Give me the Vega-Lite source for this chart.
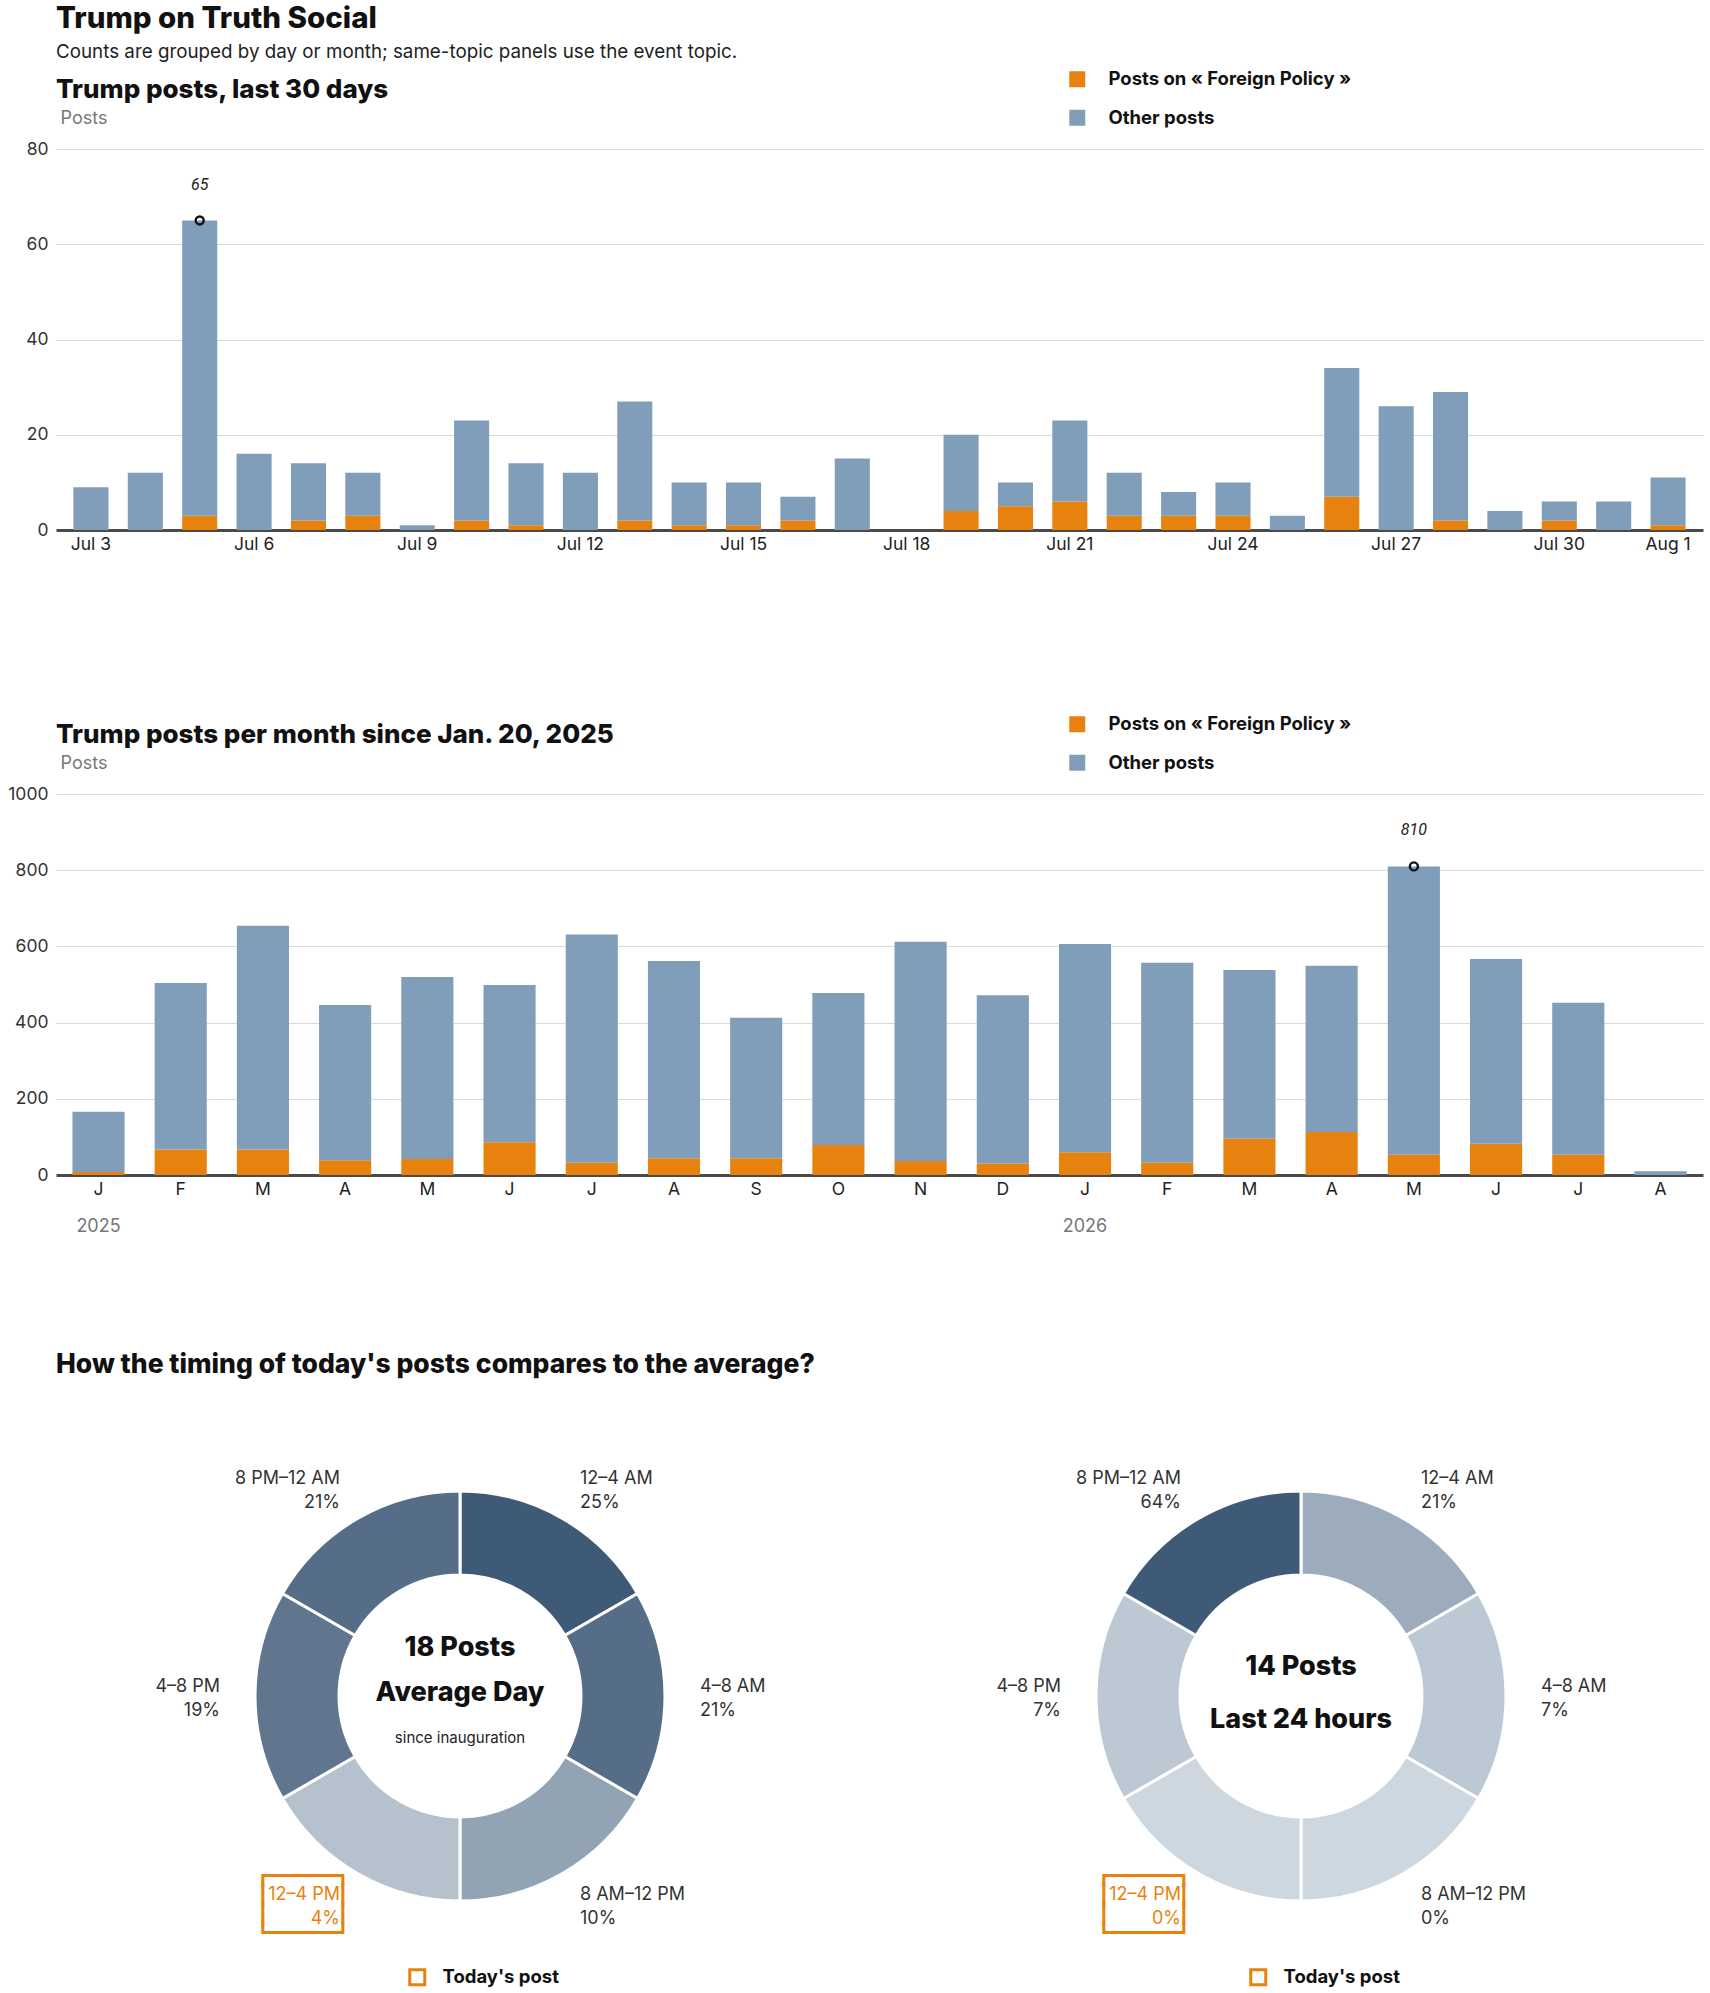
{
  "$schema": "https://vega.github.io/schema/vega-lite/v6.json",
  "background": "white",
  "padding": {"top": 4, "left": 7, "right": 2, "bottom": 0},
  "config": {
    "font": "Inter",
    "view": {"stroke": null},
    "axis": {"labelFont": "Inter", "labelFontSize": 17.5, "labelColor": "#333", "ticks": false, "domain": false, "grid": false, "titleFont": "Inter"},
    "legend": {"padding": 0, "labelFont": "Inter", "labelFontSize": 18.5, "labelFontWeight": 700, "labelColor": "#111", "labelLimit": 0}
  },
  "datasets": {
    "days": [
      {"day": "Jul 3", "Posts on « Foreign Policy »": 0, "Other posts": 9},
      {"day": "Jul 4", "Posts on « Foreign Policy »": 0, "Other posts": 12},
      {"day": "Jul 5", "Posts on « Foreign Policy »": 3, "Other posts": 62},
      {"day": "Jul 6", "Posts on « Foreign Policy »": 0, "Other posts": 16},
      {"day": "Jul 7", "Posts on « Foreign Policy »": 2, "Other posts": 12},
      {"day": "Jul 8", "Posts on « Foreign Policy »": 3, "Other posts": 9},
      {"day": "Jul 9", "Posts on « Foreign Policy »": 0, "Other posts": 1},
      {"day": "Jul 10", "Posts on « Foreign Policy »": 2, "Other posts": 21},
      {"day": "Jul 11", "Posts on « Foreign Policy »": 1, "Other posts": 13},
      {"day": "Jul 12", "Posts on « Foreign Policy »": 0, "Other posts": 12},
      {"day": "Jul 13", "Posts on « Foreign Policy »": 2, "Other posts": 25},
      {"day": "Jul 14", "Posts on « Foreign Policy »": 1, "Other posts": 9},
      {"day": "Jul 15", "Posts on « Foreign Policy »": 1, "Other posts": 9},
      {"day": "Jul 16", "Posts on « Foreign Policy »": 2, "Other posts": 5},
      {"day": "Jul 17", "Posts on « Foreign Policy »": 0, "Other posts": 15},
      {"day": "Jul 18", "Posts on « Foreign Policy »": 0, "Other posts": 0},
      {"day": "Jul 19", "Posts on « Foreign Policy »": 4, "Other posts": 16},
      {"day": "Jul 20", "Posts on « Foreign Policy »": 5, "Other posts": 5},
      {"day": "Jul 21", "Posts on « Foreign Policy »": 6, "Other posts": 17},
      {"day": "Jul 22", "Posts on « Foreign Policy »": 3, "Other posts": 9},
      {"day": "Jul 23", "Posts on « Foreign Policy »": 3, "Other posts": 5},
      {"day": "Jul 24", "Posts on « Foreign Policy »": 3, "Other posts": 7},
      {"day": "Jul 25", "Posts on « Foreign Policy »": 0, "Other posts": 3},
      {"day": "Jul 26", "Posts on « Foreign Policy »": 7, "Other posts": 27},
      {"day": "Jul 27", "Posts on « Foreign Policy »": 0, "Other posts": 26},
      {"day": "Jul 28", "Posts on « Foreign Policy »": 2, "Other posts": 27},
      {"day": "Jul 29", "Posts on « Foreign Policy »": 0, "Other posts": 4},
      {"day": "Jul 30", "Posts on « Foreign Policy »": 2, "Other posts": 4},
      {"day": "Jul 31", "Posts on « Foreign Policy »": 0, "Other posts": 6},
      {"day": "Aug 1", "Posts on « Foreign Policy »": 1, "Other posts": 10}
    ],
    "months": [
      {"month": "Jan 2025", "year": 2025, "Posts on « Foreign Policy »": 8, "Other posts": 158},
      {"month": "Feb 2025", "year": 2025, "Posts on « Foreign Policy »": 67, "Other posts": 437},
      {"month": "Mar 2025", "year": 2025, "Posts on « Foreign Policy »": 67, "Other posts": 587},
      {"month": "Apr 2025", "year": 2025, "Posts on « Foreign Policy »": 39, "Other posts": 407},
      {"month": "May 2025", "year": 2025, "Posts on « Foreign Policy »": 42, "Other posts": 478},
      {"month": "Jun 2025", "year": 2025, "Posts on « Foreign Policy »": 86, "Other posts": 413},
      {"month": "Jul 2025", "year": 2025, "Posts on « Foreign Policy »": 32, "Other posts": 599},
      {"month": "Aug 2025", "year": 2025, "Posts on « Foreign Policy »": 44, "Other posts": 518},
      {"month": "Sep 2025", "year": 2025, "Posts on « Foreign Policy »": 44, "Other posts": 369},
      {"month": "Oct 2025", "year": 2025, "Posts on « Foreign Policy »": 79, "Other posts": 399},
      {"month": "Nov 2025", "year": 2025, "Posts on « Foreign Policy »": 37, "Other posts": 575},
      {"month": "Dec 2025", "year": 2025, "Posts on « Foreign Policy »": 30, "Other posts": 442},
      {"month": "Jan 2026", "year": 2026, "Posts on « Foreign Policy »": 60, "Other posts": 546},
      {"month": "Feb 2026", "year": 2026, "Posts on « Foreign Policy »": 32, "Other posts": 525},
      {"month": "Mar 2026", "year": 2026, "Posts on « Foreign Policy »": 95, "Other posts": 443},
      {"month": "Apr 2026", "year": 2026, "Posts on « Foreign Policy »": 113, "Other posts": 436},
      {"month": "May 2026", "year": 2026, "Posts on « Foreign Policy »": 53, "Other posts": 757},
      {"month": "Jun 2026", "year": 2026, "Posts on « Foreign Policy »": 82, "Other posts": 485},
      {"month": "Jul 2026", "year": 2026, "Posts on « Foreign Policy »": 53, "Other posts": 399},
      {"month": "Aug 2026", "year": 2026, "Posts on « Foreign Policy »": 0, "Other posts": 10}
    ],
    "avgday": [
      {"i": 1, "slot": "12–4 AM", "hours": 4, "pct": 25, "label": "12–4 AM\n25%", "today": null},
      {"i": 2, "slot": "4–8 AM", "hours": 4, "pct": 21, "label": "4–8 AM\n21%", "today": null},
      {"i": 3, "slot": "8 AM–12 PM", "hours": 4, "pct": 10, "label": "8 AM–12 PM\n10%", "today": null},
      {"i": 4, "slot": "12–4 PM", "hours": 4, "pct": 4, "label": "12–4 PM\n4%", "today": "Today's post"},
      {"i": 5, "slot": "4–8 PM", "hours": 4, "pct": 19, "label": "4–8 PM\n19%", "today": null},
      {"i": 6, "slot": "8 PM–12 AM", "hours": 4, "pct": 21, "label": "8 PM–12 AM\n21%", "today": null}
    ],
    "last24": [
      {"i": 1, "slot": "12–4 AM", "hours": 4, "pct": 21, "label": "12–4 AM\n21%", "today": null},
      {"i": 2, "slot": "4–8 AM", "hours": 4, "pct": 7, "label": "4–8 AM\n7%", "today": null},
      {"i": 3, "slot": "8 AM–12 PM", "hours": 4, "pct": 0, "label": "8 AM–12 PM\n0%", "today": null},
      {"i": 4, "slot": "12–4 PM", "hours": 4, "pct": 0, "label": "12–4 PM\n0%", "today": "Today's post"},
      {"i": 5, "slot": "4–8 PM", "hours": 4, "pct": 7, "label": "4–8 PM\n7%", "today": null},
      {"i": 6, "slot": "8 PM–12 AM", "hours": 4, "pct": 64, "label": "8 PM–12 AM\n64%", "today": null}
    ]
  },
  "title": {
    "text": "Trump on Truth Social",
    "subtitle": "Counts are grouped by day or month; same-topic panels use the event topic.",
    "anchor": "start", "frame": "group",
    "font": "Inter", "fontSize": 29.5, "fontWeight": 800, "color": "#111",
    "subtitleFont": "Inter", "subtitleFontSize": 18.8, "subtitleColor": "#222", "subtitlePadding": 8.5,
    "offset": 7
  },
  "spacing": 115,
  "resolve": {"scale": {"color": "independent", "fill": "independent"}},
  "vconcat": [
    {
      "spacing": 162,
      "resolve": {"scale": {"color": "independent"}},
      "vconcat": [
        {
          "width": 1647, "height": 381,
          "title": {"text": "Trump posts, last 30 days", "anchor": "start", "frame": "group", "font": "Inter", "fontSize": 26, "fontWeight": 800, "color": "#111", "offset": 0, "baseline": "alphabetic", "dy": 54},
          "data": {"name": "days"},
          "transform": [{"fold": ["Posts on « Foreign Policy »", "Other posts"], "as": ["series", "posts"]}],
          "layer": [
            {
              "mark": {"type": "bar"},
              "encoding": {
                "x": {"field": "day", "type": "ordinal", "sort": null, "scale": {"paddingInner": 0.355, "paddingOuter": 0.32},
                  "axis": {"title": null, "labelAngle": 0, "values": ["Jul 3", "Jul 6", "Jul 9", "Jul 12", "Jul 15", "Jul 18", "Jul 21", "Jul 24", "Jul 27", "Jul 30", "Aug 1"], "domain": true, "domainColor": "#4a4a4a", "domainWidth": 3, "labelPadding": 5, "labelColor": "#222"}},
                "y": {"field": "posts", "type": "quantitative", "stack": "zero", "scale": {"domain": [0, 80]},
                  "axis": {"values": [0, 20, 40, 60, 80], "grid": true, "gridColor": "#dadada", "title": "Posts", "titleAngle": 0, "titleAlign": "left", "titleBaseline": "middle", "titleX": 4, "titleY": -31, "titleFontSize": 18, "titleFontWeight": "normal", "titleColor": "#777", "labelPadding": 8}},
                "color": {"field": "series", "type": "nominal", "scale": {"domain": ["Posts on « Foreign Policy »", "Other posts"], "range": ["#e8820e", "#809db9"]},
                  "legend": {"orient": "none", "legendX": 1012, "legendY": -79, "title": null, "direction": "vertical", "symbolType": "square", "symbolSize": 256, "symbolStrokeWidth": 0, "symbolOpacity": 1, "labelOffset": 22, "rowPadding": 19.5}},
                "order": {"field": "series", "sort": "descending"}
              }
            },
            {
              "transform": [
                {"aggregate": [{"op": "sum", "field": "posts", "as": "total"}], "groupby": ["day"]},
                {"joinaggregate": [{"op": "max", "field": "total", "as": "peak"}]},
                {"filter": "datum.total === datum.peak"}
              ],
              "layer": [
                {"mark": {"type": "point", "shape": "circle", "size": 64, "filled": false, "stroke": "#111", "strokeWidth": 2.4, "opacity": 1},
                  "encoding": {"x": {"field": "day", "type": "ordinal", "sort": null}, "y": {"field": "total", "type": "quantitative"}}},
                {"mark": {"type": "text", "dy": -35, "font": "Liberation Sans Narrow, Roboto", "fontStyle": "italic", "fontSize": 16, "color": "#222"},
                  "encoding": {"x": {"field": "day", "type": "ordinal", "sort": null}, "y": {"field": "total", "type": "quantitative"}, "text": {"field": "total"}}}
              ]
            }
          ]
        },
        {
          "width": 1647, "height": 381,
          "title": {"text": "Trump posts per month since Jan. 20, 2025", "anchor": "start", "frame": "group", "font": "Inter", "fontSize": 26, "fontWeight": 800, "color": "#111", "offset": 0, "baseline": "alphabetic", "dy": 54},
          "data": {"name": "months"},
          "transform": [{"fold": ["Posts on « Foreign Policy »", "Other posts"], "as": ["series", "posts"]}],
          "layer": [
            {
              "mark": {"type": "bar"},
              "encoding": {
                "x": {"field": "month", "type": "ordinal", "sort": null, "scale": {"paddingInner": 0.366, "paddingOuter": 0.2},
                  "axis": {"title": null, "labelAngle": 0, "labelExpr": "substring(datum.label, 0, 1)", "domain": true, "domainColor": "#4a4a4a", "domainWidth": 3, "labelPadding": 5, "labelColor": "#222"}},
                "y": {"field": "posts", "type": "quantitative", "stack": "zero", "scale": {"domain": [0, 1000]},
                  "axis": {"values": [0, 200, 400, 600, 800, 1000], "format": "d", "grid": true, "gridColor": "#dadada", "title": "Posts", "titleAngle": 0, "titleAlign": "left", "titleBaseline": "middle", "titleX": 4, "titleY": -31, "titleFontSize": 18, "titleFontWeight": "normal", "titleColor": "#777", "labelPadding": 8}},
                "color": {"field": "series", "type": "nominal", "scale": {"domain": ["Posts on « Foreign Policy »", "Other posts"], "range": ["#e8820e", "#809db9"]},
                  "legend": {"orient": "none", "legendX": 1012, "legendY": -79, "title": null, "direction": "vertical", "symbolType": "square", "symbolSize": 256, "symbolStrokeWidth": 0, "symbolOpacity": 1, "labelOffset": 22, "rowPadding": 19.5}},
                "order": {"field": "series", "sort": "descending"}
              }
            },
            {
              "transform": [{"filter": "indexof(datum.month, 'Jan') === 0 && datum.series === 'Other posts'"}],
              "mark": {"type": "text", "dy": 52, "baseline": "middle", "fontSize": 18, "color": "#777"},
              "encoding": {"x": {"field": "month", "type": "ordinal", "sort": null}, "y": {"datum": 0}, "text": {"field": "year"}}
            },
            {
              "transform": [
                {"aggregate": [{"op": "sum", "field": "posts", "as": "total"}], "groupby": ["month"]},
                {"joinaggregate": [{"op": "max", "field": "total", "as": "peak"}]},
                {"filter": "datum.total === datum.peak"}
              ],
              "layer": [
                {"mark": {"type": "point", "shape": "circle", "size": 64, "filled": false, "stroke": "#111", "strokeWidth": 2.4, "opacity": 1},
                  "encoding": {"x": {"field": "month", "type": "ordinal", "sort": null}, "y": {"field": "total", "type": "quantitative"}}},
                {"mark": {"type": "text", "dy": -36, "font": "Liberation Sans Narrow, Roboto", "fontStyle": "italic", "fontSize": 16, "color": "#222"},
                  "encoding": {"x": {"field": "month", "type": "ordinal", "sort": null}, "y": {"field": "total", "type": "quantitative"}, "text": {"field": "total"}}}
              ]
            }
          ]
        }
      ]
    },
    {
      "title": {"text": "How the timing of today's posts compares to the average?", "anchor": "start", "frame": "group", "font": "Inter", "fontSize": 26.5, "fontWeight": 800, "color": "#111", "offset": 28},
      "spacing": 33,
      "resolve": {"scale": {"fill": "independent", "color": "independent"}, "legend": {"color": "independent"}},
      "hconcat": [
        {
          "width": 808, "height": 580,
          "data": {"name": "avgday"},
          "layer": [
            {"mark": {"type": "arc", "outerRadius": 205, "innerRadius": 121, "stroke": "white", "strokeWidth": 3},
              "encoding": {
                "theta": {"field": "hours", "type": "quantitative", "stack": true},
                "order": {"field": "i"},
                "fill": {"field": "pct", "type": "quantitative", "scale": {"zero": true, "range": ["#cdd7e0", "#3f5a76"]}, "legend": null}
              }},
            {"mark": {"type": "text", "radius": 240, "align": {"expr": "datum.i <= 3 ? 'left' : 'right'"}, "baseline": "middle", "dy": -9, "lineBreak": "\n", "lineHeight": 24, "fontSize": 18},
              "encoding": {
                "theta": {"field": "hours", "type": "quantitative", "stack": true},
                "order": {"field": "i"},
                "text": {"field": "label"},
                "color": {"condition": {"test": "datum.today != null", "value": "#e8820e"}, "value": "#333"}
              }},
            {"mark": {"type": "text", "radius": 240, "align": "center", "baseline": "middle", "dx": -37, "dy": -27.5, "lineBreak": "\n", "lineHeight": 19, "font": "DejaVu Sans Mono", "fontSize": 19},
              "encoding": {
                "theta": {"field": "hours", "type": "quantitative", "stack": true},
                "order": {"field": "i"},
                "text": {"condition": {"test": "datum.today != null", "value": "┏━━━━━━┓\n┃\u00a0\u00a0\u00a0\u00a0\u00a0\u00a0┃\n┃\u00a0\u00a0\u00a0\u00a0\u00a0\u00a0┃\n┗━━━━━━┛"}, "value": ""},
                "color": {"field": "today", "type": "nominal", "scale": {"domain": ["Today's post"], "range": ["#e8820e"]},
                  "legend": {"orient": "none", "legendX": 352, "legendY": 562, "title": null, "symbolType": "M-1,-1H1V1H-1Z M-0.667,-0.667V0.667H0.667V-0.667Z", "symbolSize": 324, "symbolStrokeWidth": 0, "symbolOpacity": 1, "labelOffset": 16}}
              }},
            {"data": {"values": [{"headline": "18 Posts", "period": "Average Day", "note": "since inauguration"}]},
              "layer": [
                {"mark": {"type": "text", "dy": -48, "baseline": "middle", "fontSize": 27, "fontWeight": 800, "color": "#111"}, "encoding": {"text": {"field": "headline"}}},
                {"mark": {"type": "text", "dy": -3, "baseline": "middle", "fontSize": 27, "fontWeight": 800, "color": "#111"}, "encoding": {"text": {"field": "period"}}},
                {"mark": {"type": "text", "dy": 42, "baseline": "middle", "fontSize": 15, "color": "#222"}, "encoding": {"text": {"field": "note"}}}
              ]}
          ]
        },
        {
          "width": 808, "height": 580,
          "data": {"name": "last24"},
          "layer": [
            {"mark": {"type": "arc", "outerRadius": 205, "innerRadius": 121, "stroke": "white", "strokeWidth": 3},
              "encoding": {
                "theta": {"field": "hours", "type": "quantitative", "stack": true},
                "order": {"field": "i"},
                "fill": {"field": "pct", "type": "quantitative", "scale": {"zero": true, "range": ["#cdd7e0", "#3f5a76"]}, "legend": null}
              }},
            {"mark": {"type": "text", "radius": 240, "align": {"expr": "datum.i <= 3 ? 'left' : 'right'"}, "baseline": "middle", "dy": -9, "lineBreak": "\n", "lineHeight": 24, "fontSize": 18},
              "encoding": {
                "theta": {"field": "hours", "type": "quantitative", "stack": true},
                "order": {"field": "i"},
                "text": {"field": "label"},
                "color": {"condition": {"test": "datum.today != null", "value": "#e8820e"}, "value": "#333"}
              }},
            {"mark": {"type": "text", "radius": 240, "align": "center", "baseline": "middle", "dx": -37, "dy": -27.5, "lineBreak": "\n", "lineHeight": 19, "font": "DejaVu Sans Mono", "fontSize": 19},
              "encoding": {
                "theta": {"field": "hours", "type": "quantitative", "stack": true},
                "order": {"field": "i"},
                "text": {"condition": {"test": "datum.today != null", "value": "┏━━━━━━┓\n┃\u00a0\u00a0\u00a0\u00a0\u00a0\u00a0┃\n┃\u00a0\u00a0\u00a0\u00a0\u00a0\u00a0┃\n┗━━━━━━┛"}, "value": ""},
                "color": {"field": "today", "type": "nominal", "scale": {"domain": ["Today's post"], "range": ["#e8820e"]},
                  "legend": {"orient": "none", "legendX": 352, "legendY": 562, "title": null, "symbolType": "M-1,-1H1V1H-1Z M-0.667,-0.667V0.667H0.667V-0.667Z", "symbolSize": 324, "symbolStrokeWidth": 0, "symbolOpacity": 1, "labelOffset": 16}}
              }},
            {"data": {"values": [{"headline": "14 Posts", "period": "Last 24 hours"}]},
              "layer": [
                {"mark": {"type": "text", "dy": -29, "baseline": "middle", "fontSize": 27, "fontWeight": 800, "color": "#111"}, "encoding": {"text": {"field": "headline"}}},
                {"mark": {"type": "text", "dy": 24, "baseline": "middle", "fontSize": 27, "fontWeight": 800, "color": "#111"}, "encoding": {"text": {"field": "period"}}}
              ]}
          ]
        }
      ]
    }
  ]
}
